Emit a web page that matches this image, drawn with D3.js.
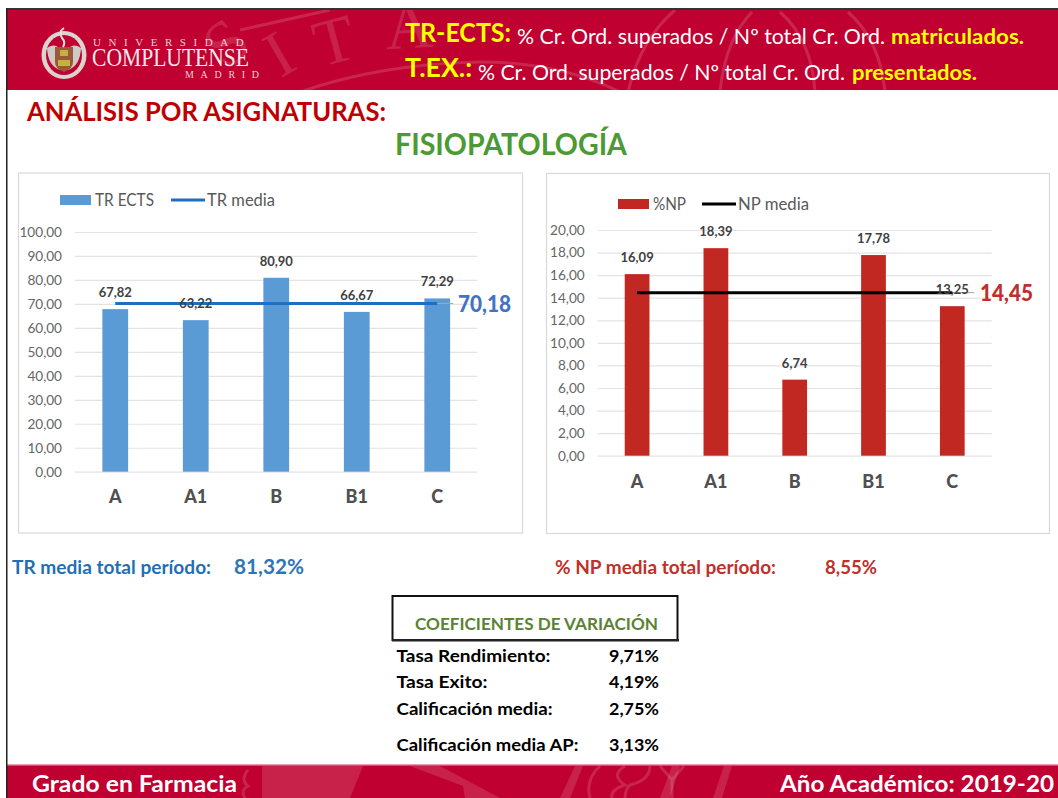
<!DOCTYPE html>
<html><head><meta charset="utf-8">
<script src="https://cdn.jsdelivr.net/npm/d3@7"></script>
<style>html,body{margin:0;background:#fff}svg{display:block}text{font-family:Lato,"Open Sans",sans-serif}</style>
</head><body><svg id="c" width="1058" height="798"></svg>
<script>
const categories=["A","A1","B","B1","C"];
const trValues=[67.82,63.22,80.90,66.67,72.29];
const npValues=[16.09,18.39,6.74,17.78,13.25];
const trMedia=70.18;
const npMedia=14.45;
const trTicks=[0,10,20,30,40,50,60,70,80,90,100];
const npTicks=[0,2,4,6,8,10,12,14,16,18,20];
const coefLabels=["Tasa Rendimiento:","Tasa Exito:","Calificación media:","Calificación media AP:"];
const coefValues=["9,71%","4,19%","2,75%","3,13%"];
const coefWidths=[154,91,156,182];
const fmt=v=>v.toFixed(2).replace(".",",");
const svg=d3.select("#c");
const T=(x,y,s,size,fill,weight,anchor,len)=>{
  const t=svg.append("text").attr("x",x).attr("y",y).text(s)
  .attr("font-size",size).attr("fill",fill).attr("font-weight",weight||400).attr("text-anchor",anchor||"start");
  if(len) t.attr("textLength",len).attr("lengthAdjust","spacingAndGlyphs");
  return t;};
const RED="#c00030";
// frame + bands
svg.append("rect").attr("x",6).attr("y",8).attr("width",1052).attr("height",2).attr("fill","#333");
svg.append("rect").attr("x",7).attr("y",10).attr("width",1051).attr("height",80).attr("fill",RED);
svg.append("rect").attr("x",7).attr("y",765).attr("width",1051).attr("height",33).attr("fill",RED);
svg.append("rect").attr("x",7).attr("y",764).attr("width",1051).attr("height",1.5).attr("fill","#e8a0b0");
svg.append("rect").attr("x",6).attr("y",8).attr("width",1.5).attr("height",790).attr("fill","#222");
// header watermark
const clipH=svg.append("clipPath").attr("id","hc");clipH.append("rect").attr("x",7).attr("y",10).attr("width",1051).attr("height",80);
const wm=svg.append("g").attr("clip-path","url(#hc)");
const letters=[["S",240,60,-40],["I",290,73,-30],["T",340,62,-15],["A",410,48,-3]];
wm.selectAll("text").data(letters).join("text").attr("transform",d=>`translate(${d[1]},${d[2]}) rotate(${d[3]})`)
  .attr("text-anchor","middle").text(d=>d[0]).attr("font-size",66).style("font-family","Liberation Serif").attr("fill","#fff").attr("fill-opacity",.13);
const wl=wm.append("g").attr("fill","none").attr("stroke","#fff").attr("stroke-opacity",.15).attr("stroke-width",3);
wl.append("path").attr("d","M300 92Q380 64 480 62Q560 62 620 92");
wl.append("path").attr("d","M628 92Q640 40 675 10");
wl.append("path").attr("d","M720 92Q725 40 752 12");
wl.append("path").attr("d","M815 92Q812 40 780 12");
wl.append("path").attr("d","M885 92Q880 40 848 12");
wl.append("path").attr("d","M330 10L240 30");
// footer watermark
const fw=svg.append("g").attr("fill","#fff").attr("fill-opacity",.13);
fw.append("path").attr("d","M262 766L363 766L350 798L262 798Z");
fw.append("path").attr("d","M410 766L440 766L500 798L465 798L463 786Z");
fw.append("path").attr("d","M575 766L583 766L570 798L560 798Z");
fw.append("path").attr("d","M672 766L680 766L670 798L660 798Z");
fw.append("path").attr("d","M724 766L732 766L722 798L713 798Z");
const fl=svg.append("g").attr("fill","none").attr("stroke","#fff").attr("stroke-opacity",.14).attr("stroke-width",3);
fl.append("path").attr("d","M600 766Q585 780 590 798M625 766Q610 775 625 785Q610 790 612 798");
fl.append("path").attr("d","M650 766Q650 780 630 785Q625 790 625 798");
fl.append("path").attr("d","M660 766L672 780L684 766M672 780L672 798");
fl.append("path").attr("d","M248 770Q240 780 248 786Q240 790 245 798");
// logo
const lg=svg.append("g");
lg.append("ellipse").attr("cx",64).attr("cy",55).attr("rx",22.5).attr("ry",24).attr("fill","#d9d4d0");
lg.append("ellipse").attr("cx",64).attr("cy",55).attr("rx",18).attr("ry",20).attr("fill",RED);
lg.append("path").attr("d","M47 48Q54 42 62 50L60 70Q48 66 47 48ZM81 48Q74 42 66 50L68 70Q80 66 81 48Z").attr("fill","#cfcac6");
lg.append("path").attr("d","M55 47H73V62Q73 69 64 72Q55 69 55 62Z").attr("fill","#9a5a3a");
lg.append("path").attr("d","M60 50H68V56H60ZM58 60H64V66H58ZM64 60H70V66H64Z").attr("fill","#c8b040");
lg.append("path").attr("d","M64 28Q58 32 62 38Q66 42 63 47").attr("fill","none").attr("stroke","#e6e0dc").attr("stroke-width",2);
T(93,46,"UNIVERSIDAD",11,"#e6d3d6").style("font-family","Liberation Serif").attr("letter-spacing",7.55);
T(92,66,"COMPLUTENSE",26,"#f4e9eb",400,"start",157).style("font-family","Liberation Serif");
T(185,78,"MADRID",10,"#e6d3d6").style("font-family","Liberation Serif").attr("letter-spacing",6.7);
// header rows
T(405,42,"TR-ECTS:",26,"#ffff00",700,"start",106);
T(517,44,"% Cr. Ord. superados / Nº total Cr. Ord.",21,"#fff",400,"start",368);
T(891,44,"matriculados.",21,"#ffff00",700,"start",133);
T(405,77,"T.EX.:",26,"#ffff00",700,"start",67);
T(478,80,"% Cr. Ord. superados / Nº total Cr. Ord.",21,"#fff",400,"start",367);
T(852,80,"presentados.",21,"#ffff00",700,"start",125);
// titles
T(27,121,"ANÁLISIS POR ASIGNATURAS:",26,"#c00000",700,"start",359);
T(395,155,"FISIOPATOLOGÍA",30,"#4b9a33",700,"start",232);

function chart(o){
  const g=svg.append("g");
  g.append("rect").attr("x",o.px).attr("y",o.py).attr("width",o.pw).attr("height",o.ph).attr("fill","#fff").attr("stroke","#d9d9d9").attr("stroke-width",1.2);
  const x=d3.scaleBand().domain(categories).range([o.x0,o.x1]).paddingInner(o.padding).paddingOuter(o.padding/2);
  const y=d3.scaleLinear().domain(o.domain).range([o.y0,o.y1]);
  const ax=g.append("g").attr("transform",`translate(${o.x0},0)`).call(d3.axisLeft(y).tickValues(o.ticks).tickFormat(fmt).tickSize(-(o.x1-o.x0)).tickPadding(13));
  ax.select(".domain").remove();
  ax.selectAll("line").attr("stroke","#e3e3e3").attr("stroke-width",1.2);
  ax.selectAll("text").attr("font-size",13.6).attr("fill","#666").style("font-family","Lato");
  g.selectAll("rect.bar").data(o.values).join("rect").attr("class","bar")
    .attr("x",(d,i)=>x(categories[i])).attr("width",x.bandwidth())
    .attr("y",d=>y(d)).attr("height",d=>o.y0-y(d)).attr("fill",o.color);
  const cx=c=>x(c)+x.bandwidth()/2;
  g.append("path").datum(o.values.map(()=>o.media)).attr("fill","none").attr("stroke",o.lineColor).attr("stroke-width",3)
    .attr("d",d3.line().x((d,i)=>cx(categories[i])).y(d=>y(d)));
  g.append("line").attr("x1",cx("C")).attr("x2",cx("C")+o.leader).attr("y1",y(o.media)).attr("y2",y(o.media)).attr("stroke","#a6a6a6").attr("stroke-width",1);
  g.selectAll("text.lab").data(o.values).join("text").attr("class","lab")
    .attr("x",(d,i)=>cx(categories[i])).attr("y",d=>y(d)-12)
    .attr("text-anchor","middle").attr("font-size",13).attr("font-weight",700).attr("fill","#404040").text(fmt);
  g.selectAll("text.cat").data(categories).join("text").attr("class","cat")
    .attr("x",cx).attr("y",o.catY).attr("text-anchor","middle").attr("font-size",18).attr("font-weight",900).attr("fill","#505050").text(d=>d);
  T(o.mediaX,o.mediaY,fmt(o.media),22,o.mediaColor,900,"start",53);
  g.append("rect").attr("x",o.lx).attr("y",o.ly-5).attr("width",31).attr("height",10).attr("fill",o.color);
  T(o.lx+35,o.ly+6,o.name1,16.5,"#595959",400,"start",o.w1);
  g.append("line").attr("x1",o.lx2).attr("x2",o.lx2+34).attr("y1",o.ly).attr("y2",o.ly).attr("stroke",o.lineColor).attr("stroke-width",3);
  T(o.lx2+36,o.ly+6,o.name2,16.5,"#595959",400,"start",o.w2);
}
chart({px:18.5,py:173,pw:504,ph:360,x0:75,x1:477.5,y0:471.7,y1:232,domain:[0,100],ticks:trTicks,padding:.68,
  values:trValues,media:trMedia,color:"#5b9bd5",lineColor:"#1f6fc0",leader:16,catY:503,
  mediaX:458,mediaY:312,mediaColor:"#4472c4",lx:60,ly:200,name1:"TR ECTS",w1:59,lx2:171,name2:"TR media",w2:68});
chart({px:546.5,py:173.5,pw:503,ph:360,x0:597.7,x1:991.7,y0:455.7,y1:230,domain:[0,20],ticks:npTicks,padding:.686,
  values:npValues,media:npMedia,color:"#c22822",lineColor:"#000",leader:22,catY:488,
  mediaX:980,mediaY:301,mediaColor:"#c0302a",lx:618,ly:204,name1:"%NP",w1:33,lx2:702,name2:"NP media",w2:71});
// totals
T(12,574,"TR media total período:",18,"#1f6fb5",700,"start",199);
T(234,574,"81,32%",20,"#2e75b6",700,"start",70);
T(555,574,"% NP media total período:",18,"#c0302a",700,"start",221);
T(825,574,"8,55%",18,"#c0302a",700,"start",52);
// box
svg.append("rect").attr("x",392.5).attr("y",596).attr("width",285).attr("height",44).attr("fill","#fff").attr("stroke","#111").attr("stroke-width",2);
svg.append("rect").attr("x",392).attr("y",639).attr("width",287).attr("height",2.5).attr("fill","#222");
T(415,630,"COEFICIENTES DE VARIACIÓN",17.5,"#5b8233",700,"start",243);
const rowY=[662,688,715,751];
coefLabels.forEach((d,i)=>T(396.5,rowY[i],d,17,"#000",700,"start",coefWidths[i]));
coefValues.forEach((d,i)=>T(609,rowY[i],d,17,"#000",700,"start",50));
// footer
T(32,792,"Grado en Farmacia",23,"#fff",700,"start",205);
T(780,792,"Año Académico: 2019-20",23,"#fff",700,"start",274);
</script></body></html>
